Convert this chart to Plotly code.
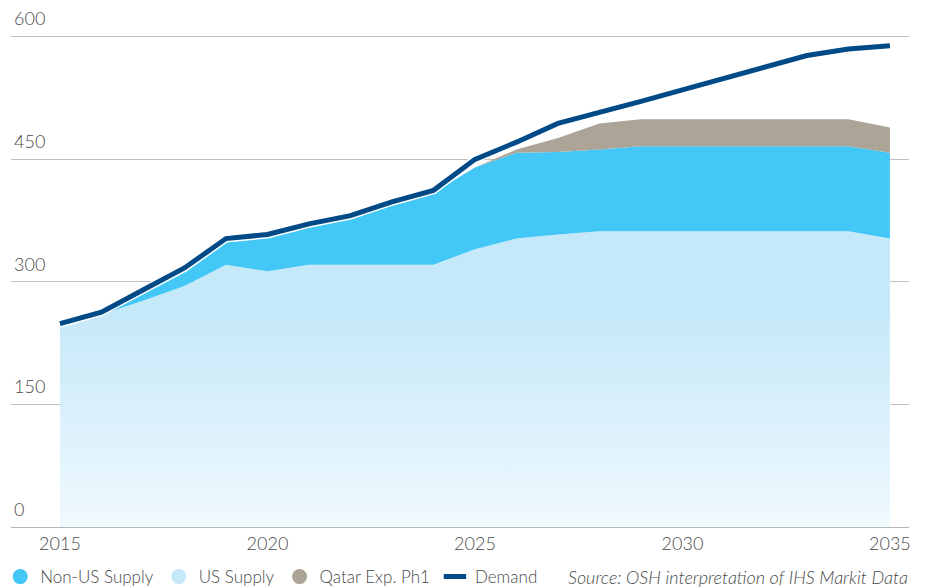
import plotly.graph_objects as go

# LNG supply and demand outlook, 2015-2035
years = list(range(2015, 2036))
us_supply = [247, 260, 277, 295, 321, 313, 321, 321, 321, 321, 340, 353, 358, 362,
             362, 362, 362, 362, 362, 362, 353]
non_us_supply = [1, 1, 9, 17, 28, 41, 48, 57, 75, 88, 100, 105, 101, 100,
                 104, 104, 104, 104, 104, 104, 105]
qatar_exp = [0, 0, 0, 0, 0, 0, 0, 0, 0, 0, 0, 4, 17, 32,
             33, 33, 33, 33, 33, 33, 31]
demand = [249, 263, 290, 317, 353, 358, 371, 381, 398, 412, 450, 471, 494, 507,
          521, 535, 549, 563, 577, 585, 589]

y_ticks = [0, 150, 300, 450, 600]
x_ticks = [2015, 2020, 2025, 2030, 2035]

C_NONUS = "#43c7f6"
C_US = "#c6e9f9"
C_QATAR = "#aba497"
C_DEMAND = "#004a87"
FONT = "Lato"
TXT = "#4a4a4a"

top_us = us_supply
top_nonus = [a + b for a, b in zip(us_supply, non_us_supply)]
top_qatar = [a + b for a, b in zip(top_nonus, qatar_exp)]

fig = go.Figure()

fig.add_trace(go.Scatter(
    x=years, y=top_us, mode="lines", line=dict(width=0), fill="tozeroy",
    fillgradient=dict(type="vertical", start=0, stop=260,
                      colorscale=[[0, "#f0f9fe"], [1, C_US]]),
    showlegend=False, hoverinfo="skip"))
fig.add_trace(go.Scatter(
    x=years, y=top_nonus, mode="lines", line=dict(width=0), fill="tonexty",
    fillcolor=C_NONUS, showlegend=False, hoverinfo="skip"))
fig.add_trace(go.Scatter(
    x=years, y=top_qatar, mode="lines", line=dict(width=0), fill="tonexty",
    fillcolor=C_QATAR, showlegend=False, hoverinfo="skip"))

# demand line with a thin white casing
fig.add_trace(go.Scatter(
    x=years, y=demand, mode="lines", line=dict(color="white", width=8),
    showlegend=False, hoverinfo="skip"))
fig.add_trace(go.Scatter(
    x=years, y=demand, mode="lines", line=dict(color=C_DEMAND, width=5),
    showlegend=False))

# legend entries
for name, col in [("Non-US Supply", C_NONUS), ("US Supply", C_US),
                  ("Qatar Exp. Ph1", C_QATAR)]:
    fig.add_trace(go.Scatter(
        x=[None], y=[None], mode="markers", name=name,
        marker=dict(symbol="circle", size=15, color=col)))
fig.add_trace(go.Scatter(
    x=[None], y=[None], mode="markers", name="Demand",
    marker=dict(symbol="line-ew-open", size=17, color=C_DEMAND,
                line=dict(color=C_DEMAND, width=5))))

fig.update_layout(
    width=926, height=588,
    margin=dict(l=11, r=17, t=0, b=61, autoexpand=False),
    plot_bgcolor="white", paper_bgcolor="white",
    font=dict(family=FONT, color=TXT, size=17, weight=300),
    xaxis=dict(range=[2013.82, 2035.46], tickvals=x_ticks,
               ticktext=[str(v) for v in x_ticks], showgrid=False,
               zeroline=False, showline=True, linecolor="#b5b5b5",
               linewidth=1, ticks="", automargin=False,
               tickfont=dict(size=18, color=TXT, weight=300)),
    yaxis=dict(range=[0, 645], tickvals=y_ticks,
               ticktext=[str(v) for v in y_ticks],
               ticklabelposition="inside top", ticklabelshift=-5,
               showgrid=True, gridcolor="#c0c0c0", gridwidth=1,
               zeroline=False, showline=False, ticks="", automargin=False,
               tickfont=dict(size=18, color=TXT, weight=300)),
    legend=dict(orientation="h", x=-0.012, xanchor="left", y=-0.095,
                yanchor="middle", font=dict(size=17, color=TXT, weight=300),
                itemsizing="trace", traceorder="normal"),
    annotations=[dict(
        text="<i>Source: OSH interpretation of IHS Markit Data</i>",
        xref="paper", yref="paper", x=1.0, y=-0.095, xanchor="right",
        yanchor="middle", showarrow=False, xshift=1,
        font=dict(size=18, color=TXT, family=FONT, weight=300))],
)

fig.write_html("out.html")
